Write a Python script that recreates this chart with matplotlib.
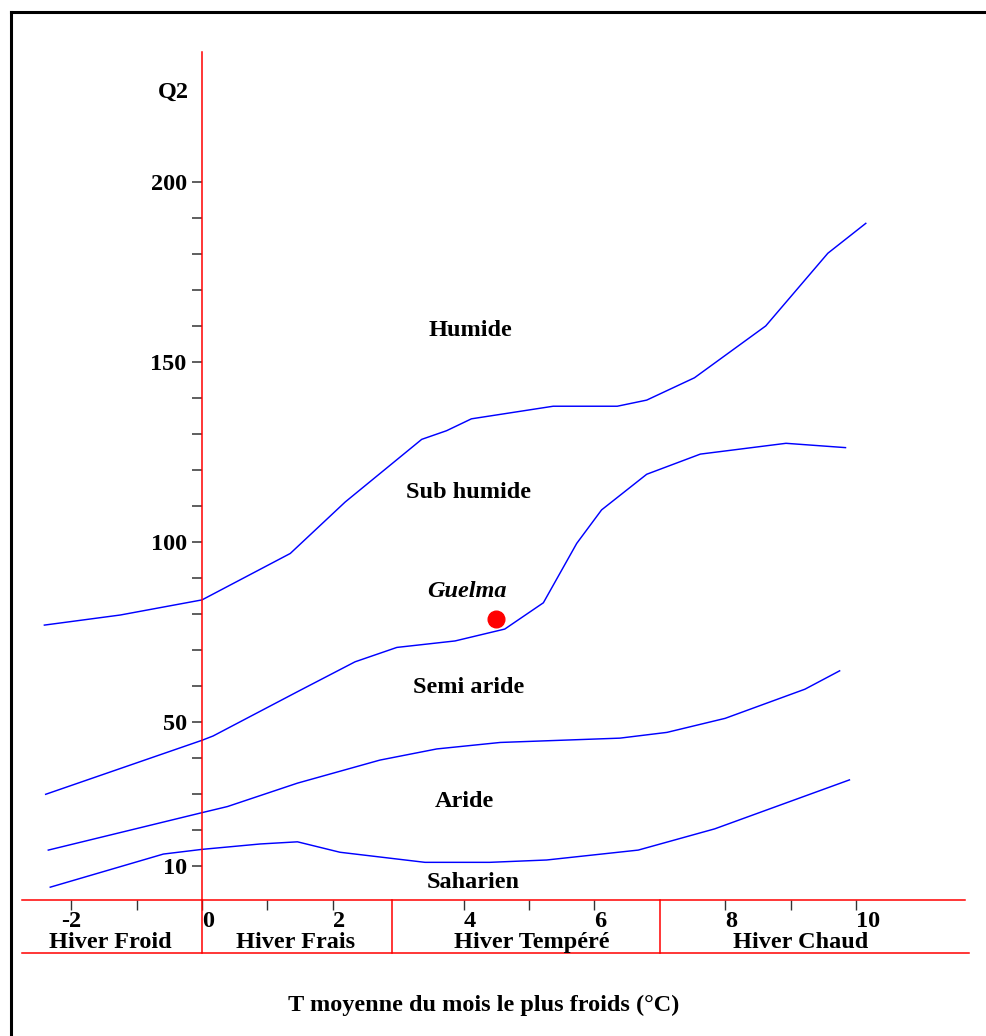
import matplotlib
matplotlib.use("Agg")
import matplotlib.pyplot as plt
from matplotlib.lines import Line2D

plt.rcParams['font.family'] = ['Liberation Serif', 'DejaVu Serif']
plt.rcParams['font.weight'] = 'bold'

# limit curves of the Emberger climagram (T min in degC, Q2)
humide_x = [-2.41, -1.25, 0.0, 1.35, 2.19, 3.36, 3.74, 4.12, 5.37, 6.35, 6.80, 7.53, 8.62, 9.57, 10.15]
humide_y = [77.0, 79.8, 84.0, 96.9, 111.2, 128.6, 131.0, 134.3, 137.8, 137.8, 139.5, 145.7, 160.1, 180.3, 188.6]

subhum_x = [-2.39, 0.0, 0.17, 1.46, 2.34, 2.98, 3.87, 4.63, 5.22, 5.73, 6.11, 6.80, 7.62, 8.93, 9.84]
subhum_y = [30.0, 45.0, 46.2, 58.5, 66.8, 70.8, 72.6, 75.9, 83.2, 99.7, 109.0, 118.9, 124.5, 127.5, 126.3]

semi_x = [-2.35, 0.0, 0.39, 1.46, 2.72, 3.59, 4.56, 6.39, 7.11, 8.00, 9.22, 9.75]
semi_y = [14.5, 24.9, 26.6, 33.1, 39.5, 42.6, 44.4, 45.6, 47.2, 51.1, 59.2, 64.3]

aride_x = [-2.32, -0.59, 0.0, 0.89, 1.46, 2.11, 3.41, 4.40, 5.27, 6.67, 7.84, 9.90]
aride_y = [4.2, 13.4, 14.7, 16.2, 16.8, 13.9, 11.1, 11.1, 11.75, 14.5, 20.4, 34.0]

station = "Guelma"
station_t = 4.5
station_q2 = 78.8

zone_names = ["Humide", "Sub humide", "Semi aride", "Aride", "Saharien"]
zone_y = [157.3, 112.2, 58.2, 26.6, 3.9]
zone_x = [4.11, 4.08, 4.07, 4.02, 4.14]

hiver_names = ["Hiver Froid", "Hiver Frais", "Hiver Tempéré", "Hiver Chaud"]
hiver_x = [-1.40, 1.43, 5.04, 9.15]
hiver_limits = [2.9, 7.0]

xmajor = [-2, 0, 2, 4, 6, 8, 10]
xminor = [-1, 1, 5, 9]
ymajor = [10, 50, 100, 150, 200]
yminor = [20, 30, 40, 60, 70, 80, 90, 110, 120, 130, 140, 160, 170, 180, 190]

FS = 17.5
xmin, xmax = -2.752, 11.667
ymin, ymax = 0.72, 236.2
band = -14.1

fig = plt.figure(figsize=(9.87, 10.36), dpi=100)
ax = fig.add_axes([0.02229, 0.13156, 0.95542, 0.81825])
ax.set_xlim(xmin, xmax)
ax.set_ylim(ymin, ymax)

for s in ['top', 'right']:
    ax.spines[s].set_visible(False)
ax.spines['left'].set_position(('data', 0))
ax.spines['left'].set_color('red')
ax.spines['bottom'].set_color('red')
ax.spines['left'].set_linewidth(1.1)
ax.spines['bottom'].set_linewidth(1.1)

for cx, cy in [(humide_x, humide_y), (subhum_x, subhum_y), (semi_x, semi_y), (aride_x, aride_y)]:
    ax.plot(cx, cy, color='blue', lw=1.05)

ax.plot([station_t], [station_q2], 'o', color='red', ms=12)
ax.text(4.05, 84.7, station, ha='center', va='baseline', fontsize=FS, style='italic')

for name, zx, zy in zip(zone_names, zone_x, zone_y):
    ax.text(zx, zy, name, ha='center', va='baseline', fontsize=FS)

ax.text(-0.43, 223.5, "Q2", ha='center', va='baseline', fontsize=FS)

# winter band below the axis
ax.plot([xmin, 11.73], [band, band], color='red', lw=1.1, clip_on=False)
ax.plot([0, 0], [band, ymin], color='red', lw=1.1, clip_on=False)
for lim in hiver_limits:
    ax.plot([lim, lim], [band, ymin], color='red', lw=1.1, clip_on=False)
for name, hx in zip(hiver_names, hiver_x):
    ax.text(hx, -12.8, name, ha='center', va='baseline', fontsize=FS, clip_on=False)

ax.text(4.30, -30.1, "T moyenne du mois le plus froids (°C)", ha='center', va='baseline',
        fontsize=FS, clip_on=False)

ax.set_xticks(xmajor, labels=[str(v) for v in xmajor])
ax.set_xticks(xminor, minor=True)
ax.set_yticks(ymajor, labels=[str(v) for v in ymajor])
ax.set_yticks(yminor, minor=True)
ax.tick_params(axis='x', which='both', direction='out', length=7, width=1.0, color='#333333',
               labelsize=FS, pad=1)
ax.tick_params(axis='y', which='both', direction='out', length=7, width=1.1, color='#333333',
               labelsize=FS, pad=4)
for lbl in ax.get_xticklabels():
    lbl.set_horizontalalignment('left')
ax.get_xticklabels()[0].set_horizontalalignment('center')

# black frame of the original figure
fig.add_artist(Line2D([11 / 987, 11 / 987], [0, 1 - 12 / 1036], color='black', lw=2.2))
fig.add_artist(Line2D([11 / 987, 1], [1 - 12 / 1036, 1 - 12 / 1036], color='black', lw=2.2))

fig.savefig("out.png", dpi=100)
